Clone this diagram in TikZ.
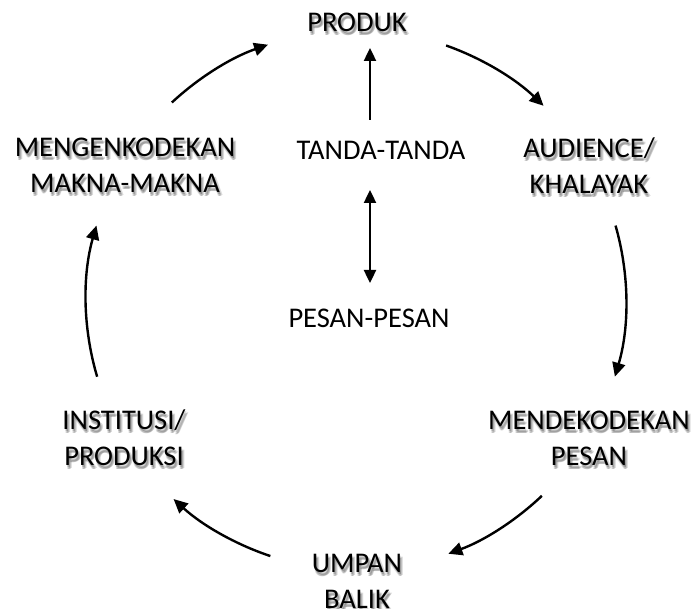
\documentclass[tikz,border=0pt]{standalone}
\usepackage{fontspec}
\setmainfont{Carlito}
\usetikzlibrary{arrows.meta}
% label with a soft drop shadow: #1 name, #2 x, #3 y, #4 text
\newcommand\shadowedlabel[4]{%
  \foreach \dx/\dy in {1/-2,2/-4,3/-3,1/-4}{
    \node[shade] at (#2+\dx,#3+\dy) {#4};
  }
  \node[lbl] (#1) at (#2,#3) {#4};
}
\begin{document}
\begin{tikzpicture}[x=1pt,y=1pt,
  lbl/.style={font=\fontsize{28.5}{36}\selectfont, align=center, inner sep=0pt, text=black},
  shade/.style={lbl, opacity=0.14},
  cyc/.style={line width=2.4pt, -{Triangle[length=14pt,width=13pt]}},
  dbl/.style={line width=2.4pt, {Triangle[length=13pt,width=12pt]}-{Triangle[length=13pt,width=12pt]}},
  sgl/.style={line width=2.4pt, -{Triangle[length=13pt,width=12pt]}}]
\useasboundingbox (-356,-308) rectangle (335,300);
\fill[white] (-356,-308) rectangle (335,300);

% outer labels
\shadowedlabel{produk}{1}{278}{PRODUK}
\shadowedlabel{enkode}{-231}{135}{MENGENKODEKAN\\MAKNA-MAKNA}
\shadowedlabel{audience}{233}{134}{AUDIENCE/\\KHALAYAK}
\shadowedlabel{dekode}{233}{-138}{MENDEKODEKAN\\PESAN}
\shadowedlabel{institusi}{-232}{-138}{INSTITUSI/\\PRODUKSI}
\shadowedlabel{umpan}{1}{-281}{UMPAN\\BALIK}

% inner labels
\node[lbl] (tanda) at (25,150) {TANDA-TANDA};
\node[lbl] (pesan) at (13,-18) {PESAN-PESAN};

% cycle arrows along a circle
\draw[cyc] (133:270) arc[start angle=133, end angle=109, radius=270];
\draw[cyc] (70.5:270) arc[start angle=70.5, end angle=46, radius=270];
\draw[cyc] (16:270) arc[start angle=16, end angle=-16.5, radius=270];
\draw[cyc] (-46.5:270) arc[start angle=-46.5, end angle=-70, radius=270];
\draw[cyc] (-108.5:270) arc[start angle=-108.5, end angle=-132.5, radius=270];
\draw[cyc] (196.5:270) arc[start angle=196.5, end angle=164, radius=270];

% inner arrows
\coordinate (t1) at (14,180);
\coordinate (t2) at (14,252);
\coordinate (d1) at (14,110);
\coordinate (d2) at (14,17);
\draw[sgl] (t1) -- (t2);
\draw[dbl] (d1) -- (d2);
\end{tikzpicture}
\end{document}
